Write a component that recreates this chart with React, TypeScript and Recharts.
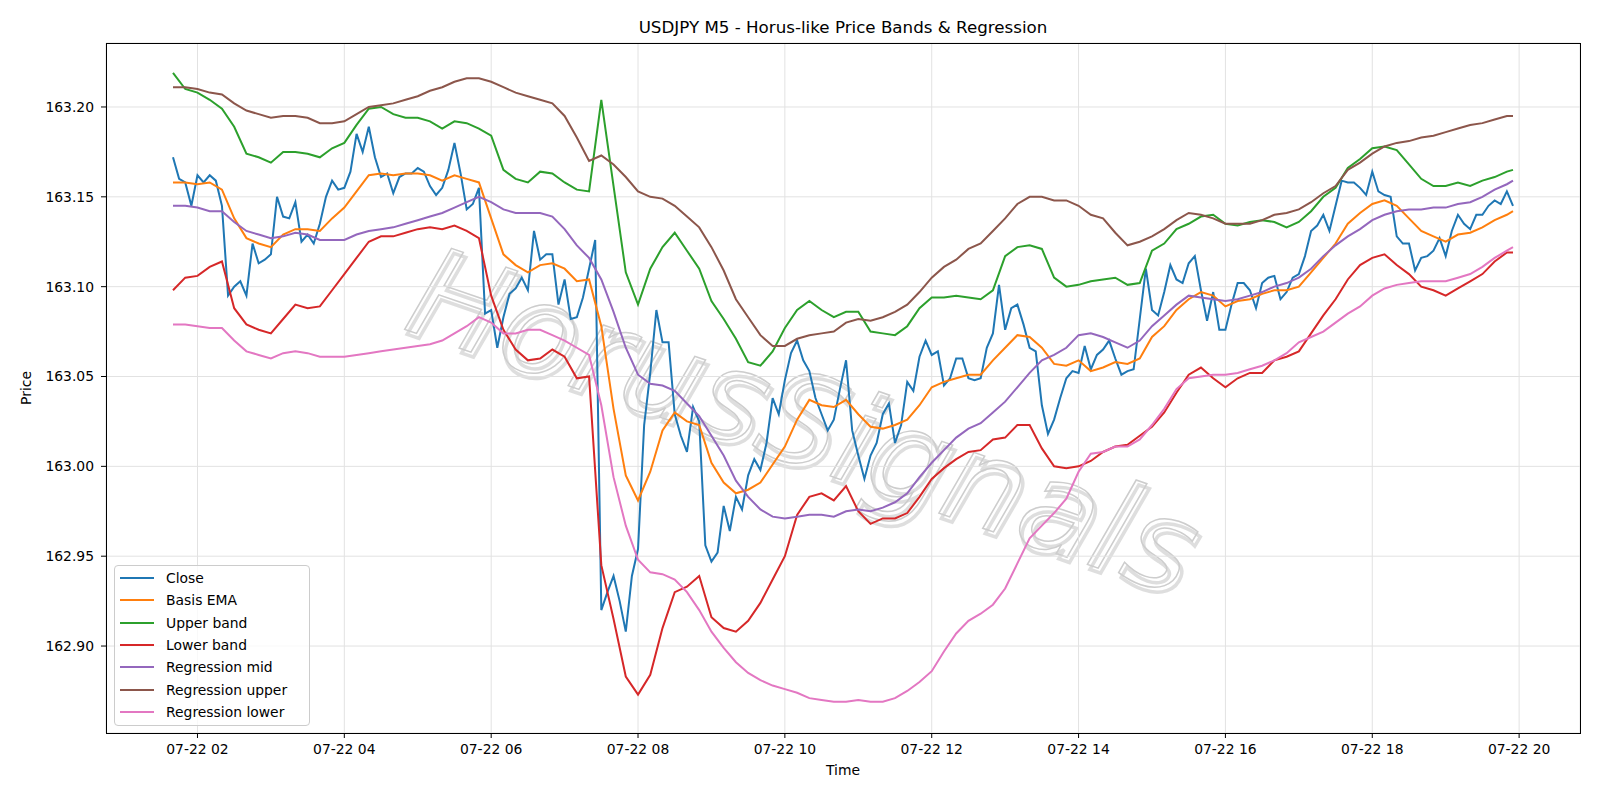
import React from "react";
import { LineChart, Line, XAxis, YAxis, CartesianGrid, Legend } from "recharts";

// 5-minute bars, 07-22 01:40 .. 19:55 (hours since midnight)
const START_HOUR = 1 + 40 / 60;
const BAR_HOURS = 5 / 60;

const close = [
  163.172, 163.160, 163.158, 163.145, 163.162, 163.158, 163.162, 163.159, 163.145, 163.095,
  163.100, 163.103, 163.095, 163.124, 163.113, 163.115, 163.118, 163.150, 163.139, 163.138,
  163.147, 163.125, 163.129, 163.124, 163.135, 163.150, 163.159, 163.154, 163.155, 163.164,
  163.185, 163.175, 163.189, 163.172, 163.161, 163.163, 163.152, 163.161,
  163.163, 163.163, 163.166, 163.164, 163.156, 163.151, 163.155, 163.165, 163.180, 163.163,
  163.143, 163.146, 163.155, 163.085, 163.087, 163.066, 163.083, 163.096, 163.099, 163.105,
  163.098, 163.131, 163.115, 163.118, 163.118, 163.090, 163.104, 163.082, 163.083, 163.094,
  163.110, 163.126,
  162.920, 162.930, 162.939, 162.925, 162.908, 162.939, 162.954, 163.023, 163.052, 163.087,
  163.069, 163.069, 163.029, 163.017, 163.008, 163.033, 163.025, 162.956, 162.947, 162.952,
  162.978, 162.964, 162.983, 162.976, 162.995, 163.004, 162.998, 163.013, 163.038, 163.029,
  163.048, 163.063, 163.070, 163.059, 163.053, 163.038, 163.029, 163.020, 163.026, 163.043,
  163.059, 163.020, 163.006,
  162.993, 163.006, 163.013, 163.029, 163.035, 163.013, 163.023, 163.047,
  163.042, 163.061, 163.070, 163.062, 163.064, 163.045, 163.049, 163.060, 163.060, 163.049,
  163.048, 163.049, 163.066, 163.074, 163.101, 163.076, 163.088, 163.090, 163.079, 163.066,
  163.064, 163.034, 163.018, 163.026, 163.038, 163.049, 163.053, 163.052,
  163.067, 163.054, 163.062, 163.065, 163.070, 163.060, 163.051, 163.053, 163.054, 163.082,
  163.110, 163.087, 163.084, 163.097, 163.112, 163.104, 163.102, 163.113, 163.117, 163.098,
  163.081, 163.097, 163.076, 163.076, 163.090, 163.102, 163.102, 163.098, 163.088, 163.102,
  163.105, 163.106, 163.093, 163.097, 163.105, 163.107,
  163.117, 163.131, 163.134, 163.140, 163.131, 163.145, 163.159, 163.158, 163.158, 163.155,
  163.151, 163.164, 163.153, 163.151, 163.150, 163.128, 163.124, 163.124, 163.109, 163.116,
  163.117, 163.120, 163.127, 163.117, 163.131, 163.140, 163.135, 163.132, 163.140, 163.140,
  163.145, 163.148, 163.146, 163.153, 163.145,
];

// indicator values sampled every other bar (10 min), plus the final bar
const basisEma = [
  163.158, 163.158, 163.157, 163.158, 163.154, 163.138, 163.127, 163.124, 163.122, 163.129,
  163.132, 163.132, 163.131, 163.138, 163.144, 163.153, 163.162, 163.163, 163.162,
  163.163, 163.163, 163.162, 163.159, 163.162, 163.160, 163.158, 163.138, 163.118, 163.112,
  163.108, 163.112, 163.113, 163.110, 163.103, 163.104,
  163.078, 163.032, 162.995, 162.981, 162.997, 163.020, 163.030, 163.025, 163.023, 163.002,
  162.991, 162.985, 162.987, 162.991, 163.001, 163.011, 163.026, 163.037, 163.034, 163.033,
  163.037, 163.029,
  163.022, 163.021, 163.023, 163.026, 163.034, 163.044, 163.047, 163.049, 163.051, 163.051,
  163.059, 163.066, 163.073, 163.072, 163.066, 163.057, 163.056, 163.059,
  163.053, 163.055, 163.058, 163.057, 163.060, 163.072, 163.078, 163.087, 163.093, 163.097,
  163.095, 163.089, 163.092, 163.093, 163.096, 163.098, 163.098, 163.100, 163.108,
  163.116, 163.124, 163.135, 163.141, 163.146, 163.148, 163.145, 163.138, 163.131, 163.128,
  163.125, 163.129, 163.130, 163.133, 163.137, 163.140,
  163.142,
];

const upperBand = [
  163.219, 163.210, 163.208, 163.204, 163.199, 163.189, 163.174, 163.172, 163.169, 163.175,
  163.175, 163.174, 163.172, 163.177, 163.180, 163.190, 163.199, 163.200, 163.196,
  163.194, 163.194, 163.192, 163.188, 163.192, 163.191, 163.188, 163.184, 163.165, 163.160,
  163.158, 163.164, 163.163, 163.158, 163.154, 163.153,
  163.204, 163.156, 163.108, 163.090, 163.110, 163.122, 163.130, 163.120, 163.110, 163.092,
  163.082, 163.071, 163.058, 163.056, 163.064, 163.077, 163.087, 163.092, 163.087, 163.083,
  163.086, 163.086,
  163.075, 163.074, 163.073, 163.078, 163.088, 163.094, 163.094, 163.095, 163.094, 163.093,
  163.098, 163.117, 163.122, 163.123, 163.121, 163.105, 163.100, 163.101,
  163.103, 163.104, 163.105, 163.101, 163.102, 163.120, 163.124, 163.132, 163.135, 163.139,
  163.140, 163.135, 163.134, 163.136, 163.137, 163.136, 163.133, 163.136, 163.142,
  163.150, 163.155, 163.166, 163.171, 163.177, 163.178, 163.176, 163.168, 163.160, 163.156,
  163.156, 163.158, 163.156, 163.159, 163.161, 163.164,
  163.165,
];

const lowerBand = [
  163.098, 163.105, 163.106, 163.111, 163.114, 163.088, 163.079, 163.076, 163.074, 163.082,
  163.090, 163.088, 163.089, 163.098, 163.107, 163.116, 163.125, 163.128, 163.128,
  163.130, 163.132, 163.133, 163.132, 163.134, 163.131, 163.127, 163.095, 163.076, 163.065,
  163.059, 163.060, 163.065, 163.061, 163.049, 163.050,
  162.945, 162.915, 162.883, 162.873, 162.884, 162.910, 162.930, 162.933, 162.939, 162.916,
  162.910, 162.908, 162.914, 162.924, 162.937, 162.950, 162.973, 162.983, 162.985, 162.981,
  162.989, 162.975,
  162.968, 162.971, 162.971, 162.974, 162.983, 162.993, 162.999, 163.004, 163.008, 163.009,
  163.015, 163.016, 163.023, 163.023, 163.010, 163.000, 162.999, 163.000,
  163.003, 163.008, 163.011, 163.012, 163.017, 163.022, 163.030, 163.041, 163.051, 163.055,
  163.049, 163.044, 163.049, 163.052, 163.052, 163.059, 163.061, 163.064, 163.074,
  163.084, 163.093, 163.104, 163.112, 163.116, 163.118, 163.112, 163.107, 163.100, 163.098,
  163.095, 163.099, 163.103, 163.107, 163.114, 163.119,
  163.119,
];

const regMid = [
  163.145, 163.145, 163.144, 163.142, 163.142, 163.136, 163.131, 163.129, 163.127, 163.128,
  163.130, 163.129, 163.126, 163.126, 163.126, 163.129, 163.131, 163.132, 163.133,
  163.135, 163.137, 163.139, 163.141, 163.144, 163.147, 163.150, 163.147, 163.143, 163.141,
  163.141, 163.141, 163.139, 163.132, 163.123, 163.116,
  163.104, 163.086, 163.066, 163.051, 163.046, 163.045, 163.042, 163.035, 163.028, 163.017,
  163.006, 162.992, 162.983, 162.976, 162.972, 162.971, 162.972, 162.973, 162.973, 162.972,
  162.975, 162.976,
  162.975, 162.977, 162.980, 162.985, 162.994, 163.002, 163.009, 163.016, 163.021, 163.024,
  163.030, 163.036, 163.044, 163.052, 163.059, 163.062, 163.066, 163.073,
  163.074, 163.072, 163.069, 163.066, 163.070, 163.078, 163.084, 163.090, 163.095, 163.094,
  163.093, 163.092, 163.093, 163.095, 163.097, 163.100, 163.102, 163.105, 163.110,
  163.117, 163.123, 163.128, 163.132, 163.137, 163.140, 163.142, 163.143, 163.143, 163.144,
  163.144, 163.146, 163.147, 163.150, 163.154, 163.157,
  163.159,
];

const regUpper = [
  163.211, 163.211, 163.210, 163.208, 163.207, 163.202, 163.198, 163.196, 163.194, 163.195,
  163.195, 163.194, 163.191, 163.191, 163.192, 163.196, 163.200, 163.201, 163.202,
  163.204, 163.206, 163.209, 163.211, 163.214, 163.216, 163.216, 163.214, 163.211, 163.208,
  163.206, 163.204, 163.202, 163.195, 163.183, 163.170,
  163.173, 163.168, 163.161, 163.153, 163.150, 163.149, 163.145, 163.139, 163.133, 163.122,
  163.109, 163.093, 163.083, 163.073, 163.067, 163.067, 163.071, 163.073, 163.074, 163.075,
  163.080, 163.082,
  163.081, 163.083, 163.086, 163.090, 163.097, 163.105, 163.111, 163.115, 163.121, 163.124,
  163.131, 163.138, 163.146, 163.150, 163.150, 163.148, 163.148, 163.145,
  163.140, 163.138, 163.130, 163.123, 163.125, 163.128, 163.132, 163.137, 163.141, 163.140,
  163.138, 163.135, 163.135, 163.135, 163.137, 163.140, 163.141, 163.143, 163.147,
  163.152, 163.156, 163.165, 163.169, 163.174, 163.178, 163.180, 163.181, 163.183, 163.184,
  163.186, 163.188, 163.190, 163.191, 163.193, 163.195,
  163.195,
];

const regLower = [
  163.079, 163.079, 163.078, 163.077, 163.077, 163.070, 163.064, 163.062, 163.060, 163.063,
  163.064, 163.063, 163.061, 163.061, 163.061, 163.062, 163.063, 163.064, 163.065,
  163.066, 163.067, 163.068, 163.070, 163.074, 163.078, 163.083, 163.080, 163.074, 163.074,
  163.076, 163.076, 163.073, 163.070, 163.066, 163.062,
  163.034, 162.994, 162.967, 162.948, 162.941, 162.940, 162.937, 162.930, 162.920, 162.908,
  162.899, 162.891, 162.885, 162.881, 162.878, 162.876, 162.874, 162.871, 162.870, 162.869,
  162.869, 162.870,
  162.869, 162.869, 162.871, 162.875, 162.880, 162.886, 162.897, 162.907, 162.914, 162.918,
  162.923, 162.932, 162.946, 162.960, 162.967, 162.974, 162.982, 162.997,
  163.007, 163.008, 163.011, 163.011, 163.015, 163.023, 163.032, 163.043, 163.049, 163.050,
  163.051, 163.051, 163.052, 163.054, 163.056, 163.059, 163.063, 163.069, 163.072,
  163.075, 163.080, 163.085, 163.089, 163.095, 163.099, 163.101, 163.102, 163.103, 163.103,
  163.103, 163.105, 163.107, 163.111, 163.116, 163.120,
  163.122,
];

const hourTicks = [2, 4, 6, 8, 10, 12, 14, 16, 18, 20];
const priceTicks = [162.9, 162.95, 163.0, 163.05, 163.1, 163.15, 163.2];

const SERIES = [
  { key: "close", name: "Close", color: "#1f77b4" },
  { key: "ema", name: "Basis EMA", color: "#ff7f0e" },
  { key: "upper", name: "Upper band", color: "#2ca02c" },
  { key: "lower", name: "Lower band", color: "#d62728" },
  { key: "mid", name: "Regression mid", color: "#9467bd" },
  { key: "rupper", name: "Regression upper", color: "#8c564b" },
  { key: "rlower", name: "Regression lower", color: "#e377c2" },
];

const closeData = close.map((v, i) => ({ t: START_HOUR + i * BAR_HOURS, close: v }));

const lastBar = close.length - 1;
const bandBar = (j: number) => (j < basisEma.length - 1 ? j * 2 : lastBar);
const bandData = basisEma.map((v, j) => ({
  t: START_HOUR + bandBar(j) * BAR_HOURS,
  ema: v,
  upper: upperBand[j],
  lower: lowerBand[j],
  mid: regMid[j],
  rupper: regUpper[j],
  rlower: regLower[j],
}));

// plot box in page pixels
const PLOT = { left: 106, top: 43, right: 1580, bottom: 733 };
const Y_AXIS_W = 60;
const X_AXIS_H = 30;
const FONT = "DejaVu Sans";

const spanH = lastBar * BAR_HOURS;
const xDomain = [START_HOUR - 0.05 * spanH, START_HOUR + 1.05 * spanH];
const yDomain = [162.8516, 163.2356];

const pad2 = (h: number) => (h < 10 ? "0" + h : String(h));

function LegendBox() {
  return (
    <div
      style={{
        boxSizing: "border-box",
        width: 196,
        height: 161,
        border: "1px solid #cccccc",
        borderRadius: 4,
        background: "rgba(255,255,255,0.8)",
        padding: "1px 0 0 5px",
        fontFamily: FONT,
        fontSize: 13.9,
        color: "#000",
      }}
    >
      {SERIES.map((s) => (
        <div key={s.key} style={{ display: "flex", alignItems: "center", height: 22.3 }}>
          <div style={{ width: 34, height: 0, borderTop: `2px solid ${s.color}`, marginRight: 12 }} />
          <span style={{ whiteSpace: "nowrap" }}>{s.name}</span>
        </div>
      ))}
    </div>
  );
}

export default function App() {
  const lineProps = { type: "linear" as const, dot: false, strokeWidth: 2, isAnimationActive: false };
  return (
    <div
      style={{
        position: "absolute",
        left: 0,
        top: 0,
        width: 1600,
        height: 800,
        background: "#fff",
        fontFamily: FONT,
        overflow: "hidden",
      }}
    >
      <svg width={1600} height={800} style={{ position: "absolute", left: 0, top: 0 }}>
        <text x={843} y={33} textAnchor="middle" fontSize={16.7} fontFamily={FONT} fill="#000">
          USDJPY M5 - Horus-like Price Bands &amp; Regression
        </text>
        <text x={843} y={775} textAnchor="middle" fontSize={13.9} fontFamily={FONT} fill="#000">
          Time
        </text>
        <text
          x={31}
          y={388}
          textAnchor="middle"
          fontSize={13.9}
          fontFamily={FONT}
          fill="#000"
          transform="rotate(-90 31 388)"
        >
          Price
        </text>
        {/* watermark: hollow italic lettering with a soft offset shadow */}
        <g transform="rotate(19 790 462)" fontFamily={FONT} fontStyle="italic" fontSize={126} textAnchor="middle">
          <text x={794} y={466} fill="none" stroke="#bdbdbd" strokeOpacity={0.5} strokeWidth={3.5}>
            HorusSignals
          </text>
          <text x={790} y={462} fill="none" stroke="#cdcdcd" strokeWidth={1.5}>
            HorusSignals
          </text>
        </g>
      </svg>

      <div style={{ position: "absolute", left: 0, top: 0 }}>
        <LineChart
          width={1600}
          height={800}
          margin={{
            top: PLOT.top,
            right: 1600 - PLOT.right,
            bottom: 800 - PLOT.bottom - X_AXIS_H,
            left: PLOT.left - Y_AXIS_W,
          }}
        >
          <CartesianGrid stroke="#e2e2e2" strokeWidth={1} />
          <XAxis
            type="number"
            dataKey="t"
            domain={xDomain}
            allowDataOverflow
            ticks={hourTicks}
            tickFormatter={(h: number) => `07-22 ${pad2(h)}`}
            height={X_AXIS_H}
            axisLine={false}
            tickSize={5}
            tickMargin={6}
            tickLine={{ stroke: "#000" }}
            tick={{ fill: "#000", fontSize: 13.9, fontFamily: FONT }}
          />
          <YAxis
            type="number"
            domain={yDomain}
            allowDataOverflow
            ticks={priceTicks}
            tickFormatter={(v: number) => v.toFixed(2)}
            width={Y_AXIS_W}
            axisLine={false}
            tickSize={5}
            tickMargin={7}
            tickLine={{ stroke: "#000" }}
            tick={{ fill: "#000", fontSize: 13.9, fontFamily: FONT }}
          />
          <Line data={closeData} dataKey="close" name="Close" stroke={SERIES[0].color} {...lineProps} />
          {SERIES.slice(1).map((s) => (
            <Line key={s.key} data={bandData} dataKey={s.key} name={s.name} stroke={s.color} {...lineProps} />
          ))}
          <Legend
            layout="vertical"
            align="center"
            verticalAlign="middle"
            wrapperStyle={{ left: 114, top: 565, width: 196 }}
            content={() => <LegendBox />}
          />
        </LineChart>
      </div>

      <div
        style={{
          position: "absolute",
          left: PLOT.left - 0.5,
          top: PLOT.top - 0.5,
          width: PLOT.right - PLOT.left + 1,
          height: PLOT.bottom - PLOT.top + 1,
          boxSizing: "border-box",
          border: "1px solid #000",
          pointerEvents: "none",
        }}
      />
    </div>
  );
}
